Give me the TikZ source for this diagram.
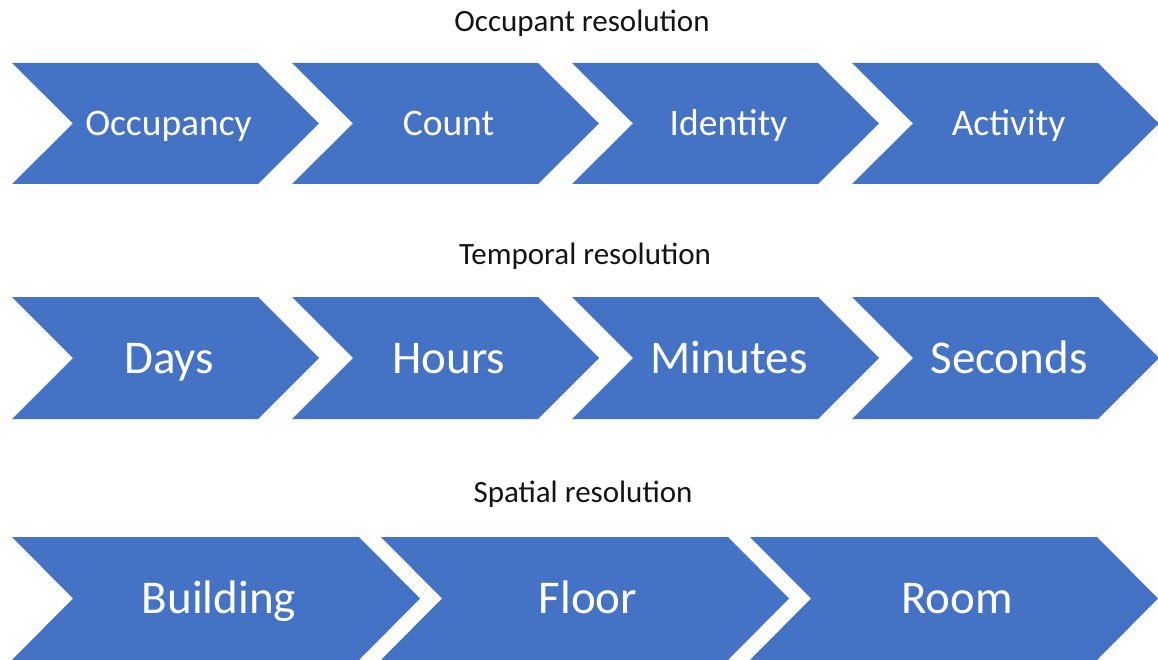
\documentclass[tikz,border=0pt]{standalone}
\usepackage{fontspec}
\setmainfont{Carlito}
\usetikzlibrary{positioning}
\definecolor{chevronblue}{RGB}{68,114,196}
\definecolor{titlegray}{RGB}{20,20,20}

\begin{document}
\begin{tikzpicture}[
            x=1pt, y=-1pt,
            chevron/.style={fill=chevronblue, draw=none},
            rowtitle/.style={anchor=base, inner sep=0pt, text=titlegray,
                            font=\fontsize{31}{37}\selectfont},
            smalltext/.style={anchor=base, inner sep=0pt, text=white,
                             font=\fontsize{37.5}{45}\selectfont},
            bigtext/.style={anchor=base, inner sep=0pt, text=white,
                           font=\fontsize{47}{56}\selectfont}
        ]
            \useasboundingbox (0,0) rectangle (1158,660);

            % Occupant resolution
            \node[rowtitle] (occtitle) at (582,32) {Occupant resolution};
            \foreach \lbl [count=\i from 0] in {Occupancy,Count,Identity,Activity} {
                \pgfmathsetmacro{\xl}{12+280*\i}
                \fill[chevron] (\xl,63) -- ++(246,0) -- ++(61,60.5) -- ++(-61,60.5)
                    -- ++(-246,0) -- ++(61,-60.5) -- cycle;
                \node[smalltext] (occ\i) at (\xl+156.5,135.5) {\lbl};
            }

            % Temporal resolution
            \node[rowtitle] (temptitle) at (585,265) {Temporal resolution};
            \foreach \lbl [count=\i from 0] in {Days,Hours,Minutes,Seconds} {
                \pgfmathsetmacro{\xl}{12+280*\i}
                \fill[chevron] (\xl,297) -- ++(246,0) -- ++(61,61) -- ++(-61,61)
                    -- ++(-246,0) -- ++(61,-61) -- cycle;
                \node[bigtext] (temp\i) at (\xl+157,373) {\lbl};
            }

            % Spatial resolution
            \node[rowtitle] (spattitle) at (583,502) {Spatial resolution};
            \foreach \lbl [count=\i from 0] in {Building,Floor,Room} {
                \pgfmathsetmacro{\xl}{12+369*\i}
                \fill[chevron] (\xl,537) -- ++(347,0) -- ++(61,61.5) -- ++(-61,61.5)
                    -- ++(-347,0) -- ++(61,-61.5) -- cycle;
                \node[bigtext] (spat\i) at (\xl+207,613) {\lbl};
            }
        \end{tikzpicture}
\end{document}
